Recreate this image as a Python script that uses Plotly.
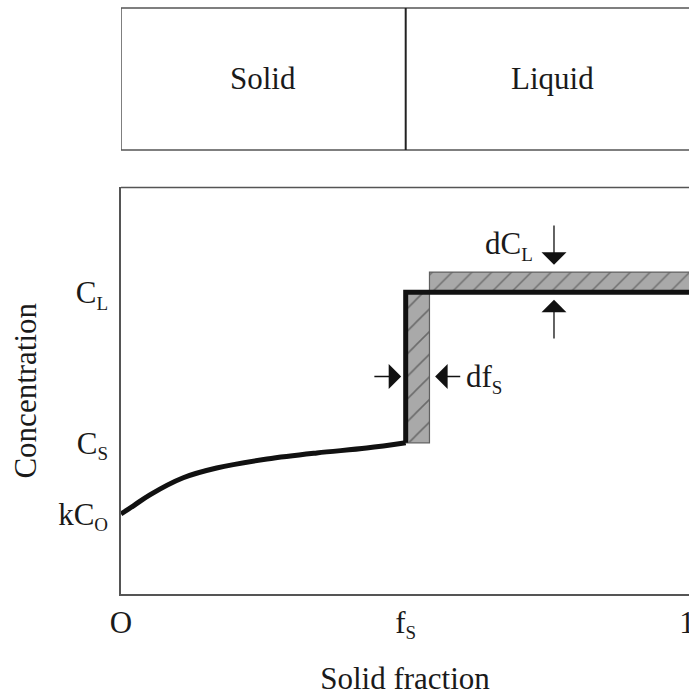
import plotly.graph_objects as go

# Solute profile in the solid: solid fraction vs concentration
fraction_solid = [0.0, 0.022, 0.051, 0.110, 0.169, 0.258, 0.346, 0.434, 0.503]
conc_solid = [0.197, 0.217, 0.244, 0.286, 0.310, 0.332, 0.347, 0.359, 0.372]

# Characteristic levels
kC0 = 0.197
C_S = 0.372
C_L = 0.742
dC_L = 0.05
f_S = 0.503
df_S = 0.042
f_end = 1.03          # the liquid plateau runs on past the right edge

SUB = "<sub><span style='font-size:19px'>{}</span></sub>"

x_ticks = [0.0, f_S, 1.0]
x_tick_text = ["O", "f" + SUB.format("S"), "1"]
y_ticks = [kC0, C_S, C_L]
y_tick_text = ["kC" + SUB.format("O"), "C" + SUB.format("S"), "C" + SUB.format("L")]

region_names = ["Solid", "Liquid"]

SERIF = "Liberation Serif"
INK = "#1a1a1a"
FRAME = "#555555"
GREY = "#a9a9a9"

fig = go.Figure()

# Hatched increment of solid at the interface (width df_S)
fig.add_trace(go.Scatter(
    x=[f_S, f_S + df_S, f_S + df_S, f_S, f_S],
    y=[C_S, C_S, C_L, C_L, C_S],
    mode="lines", fill="toself", fillcolor=GREY,
    fillpattern=dict(shape="/", bgcolor=GREY, fgcolor="#2e2e2e", size=16, solidity=0.1),
    line=dict(color="#606060", width=1.2), hoverinfo="skip", showlegend=False,
))
# Hatched rise of liquid concentration dC_L
fig.add_trace(go.Scatter(
    x=[f_S + df_S, f_end, f_end, f_S + df_S, f_S + df_S],
    y=[C_L, C_L, C_L + dC_L, C_L + dC_L, C_L],
    mode="lines", fill="toself", fillcolor=GREY,
    fillpattern=dict(shape="/", bgcolor=GREY, fgcolor="#2e2e2e", size=14, solidity=0.1),
    line=dict(color="#606060", width=1.2), hoverinfo="skip", showlegend=False,
))

# Concentration profile: solid curve, step at the interface, uniform liquid
fig.add_trace(go.Scatter(
    x=fraction_solid, y=conc_solid, mode="lines",
    line=dict(color="#111111", width=5, shape="spline", smoothing=1.0),
    hoverinfo="skip", showlegend=False,
))
fig.add_trace(go.Scatter(
    x=[fraction_solid[-1], f_S, f_end], y=[conc_solid[-1], C_L, C_L], mode="lines",
    line=dict(color="#111111", width=5),
    hoverinfo="skip", showlegend=False,
))

# Invisible point so the schematic strip gets its own axis
fig.add_trace(go.Scatter(x=[0], y=[0], yaxis="y2", mode="markers",
                         marker=dict(opacity=0), hoverinfo="skip", showlegend=False))

x_max = 568 / 566

fig.update_layout(
    width=689, height=696,
    margin=dict(l=121, r=0, t=8, b=102, autoexpand=False),
    paper_bgcolor="white", plot_bgcolor="white",
    font=dict(family=SERIF, size=31, color=INK),
    xaxis=dict(
        range=[0, x_max], domain=[0, 1], automargin=False,
        showgrid=False, zeroline=False,
        showline=True, linecolor=FRAME, linewidth=1.5,
        tickvals=x_ticks, ticktext=x_tick_text, ticks="",
        ticklabeloverflow="allow",
        tickfont=dict(family=SERIF, size=31, color=INK),
        title=dict(text="Solid fraction", font=dict(family=SERIF, size=31, color=INK), standoff=31),
    ),
    yaxis=dict(
        range=[0, 1], domain=[0, 0.6937], automargin=False,
        showgrid=False, zeroline=False,
        showline=True, linecolor=FRAME, linewidth=1.5,
        tickvals=y_ticks, ticktext=y_tick_text, ticks="",
        ticklabelstandoff=5,
        tickfont=dict(family=SERIF, size=31, color=INK),
        title=dict(text="Concentration", font=dict(family=SERIF, size=31, color=INK), standoff=12),
    ),
    yaxis2=dict(
        range=[0, 1], domain=[0.7577, 1], anchor="x", automargin=False,
        showgrid=False, zeroline=False, showline=False, showticklabels=False,
    ),
)

# Top edge of the concentration panel
fig.add_shape(type="line", xref="x", yref="y domain", x0=0, x1=f_end, y0=1, y1=1,
              line=dict(color=FRAME, width=1.5))

# Solid / Liquid schematic above the graph
fig.add_shape(type="line", xref="x", yref="y2 domain", x0=0, x1=f_end, y0=1, y1=1,
              line=dict(color=FRAME, width=1.5))
fig.add_shape(type="line", xref="x", yref="y2 domain", x0=0, x1=f_end, y0=0, y1=0,
              line=dict(color=FRAME, width=1.5))
fig.add_shape(type="line", xref="x", yref="y2 domain", x0=0, x1=0, y0=0, y1=1,
              line=dict(color=FRAME, width=1.5))
fig.add_shape(type="line", xref="x", yref="y2 domain", x0=f_S, x1=f_S, y0=0, y1=1,
              line=dict(color="#222222", width=2))

region_centres = [f_S / 2, (f_S + 1.0) / 2 + 0.01]
for name, xc in zip(region_names, region_centres):
    fig.add_annotation(x=xc, y=0.5, xref="x", yref="y2 domain", text=name,
                       showarrow=False, font=dict(family=SERIF, size=31, color=INK))

ARROW = dict(showarrow=True, arrowhead=1, arrowsize=3.2, arrowwidth=1.3, arrowcolor="#111",
             xref="x", yref="y", axref="x", ayref="y", text="")

# Arrows marking dC_L
arrow_x = 0.765
fig.add_annotation(x=arrow_x, y=C_L + dC_L + 0.018, ax=arrow_x, ay=0.910, **ARROW)
fig.add_annotation(x=arrow_x, y=C_L - 0.018, ax=arrow_x, ay=0.625, **ARROW)
fig.add_annotation(x=0.686, y=0.858, xref="x", yref="y", text="dC" + SUB.format("L"),
                   showarrow=False, font=dict(family=SERIF, size=31, color=INK))

# Arrows marking df_S
arrow_y = 0.535
fig.add_annotation(x=f_S - 0.008, y=arrow_y, ax=0.445, ay=arrow_y, **ARROW)
fig.add_annotation(x=f_S + df_S + 0.010, y=arrow_y, ax=0.602, ay=arrow_y, **ARROW)
fig.add_annotation(x=0.606, y=arrow_y - 0.005, xref="x", yref="y", xanchor="left",
                   text="df" + SUB.format("S"), showarrow=False,
                   font=dict(family=SERIF, size=31, color=INK))

fig.write_html("out.html")
